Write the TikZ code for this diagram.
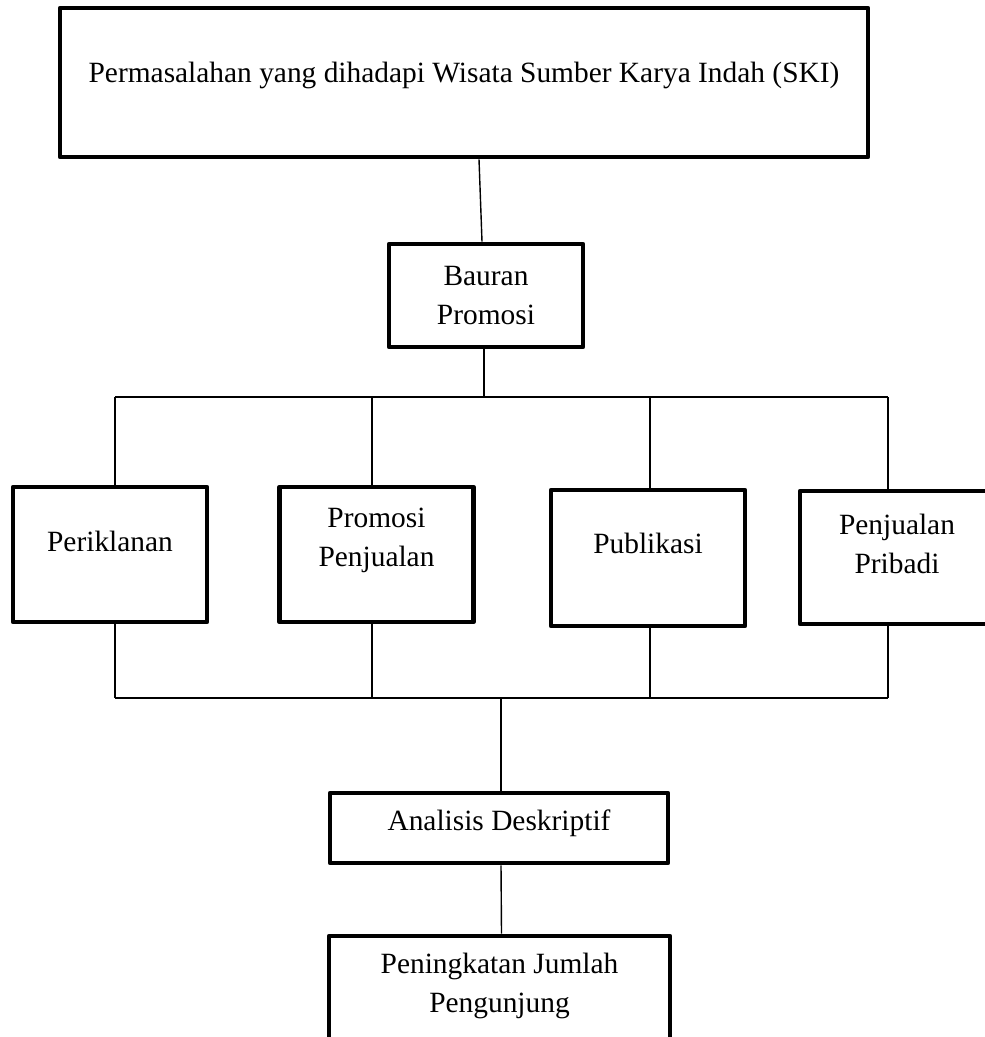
\documentclass[tikz,border=0pt]{standalone}
\usepackage{fontspec}
\setmainfont{Liberation Serif}
\begin{document}
\begin{tikzpicture}[x=0.5pt, y=-0.5pt,
  every node/.style={font=\fontsize{14.7}{19.5}\selectfont},
  box/.style={draw, line width=2.3pt, line join=round, inner sep=0pt},
  itembox/.style={box, minimum width=97pt, minimum height=67.5pt},
  link/.style={line width=0.7pt}]
\useasboundingbox (0,0) rectangle (984,1037);

% boxes
\node[box, minimum width=404pt, minimum height=74.5pt,
  label={[yshift=3.75pt]center:Permasalahan yang dihadapi Wisata Sumber Karya Indah (SKI)}] (problem) at (464,82.5) {};
\node[box, minimum width=97pt, minimum height=51.5pt, align=center] (bauran) at (486,295.5) {Bauran\\Promosi};
\node[itembox, label={[yshift=6.75pt]center:Periklanan}] (periklanan) at (110,554.5) {};
\node[itembox, label={[yshift=7.25pt, align=center]center:Promosi\\Penjualan}] (promosi) at (376.5,554.5) {};
\node[itembox, minimum height=68pt, label={[yshift=7.5pt]center:Publikasi}] (publikasi) at (648,558) {};
\node[itembox, minimum height=66.5pt, label={[yshift=7pt, align=center]center:Penjualan\\Pribadi}] (pribadi) at (897,557.5) {};
\node[box, minimum width=169pt, minimum height=35pt, label={[yshift=2.5pt]center:Analisis Deskriptif}] (analisis) at (499,828) {};
\node[box, minimum width=170.5pt, minimum height=55pt,
  label={[yshift=2.5pt, align=center]center:Peningkatan Jumlah\\Pengunjung}] (peningkatan) at (499.5,991) {};

% connectors
\coordinate (dropA) at (115,397);
\coordinate (dropB) at (372,397);
\coordinate (dropC) at (650,397);
\coordinate (dropD) at (888,397);
\coordinate (joinA) at (115,698);
\coordinate (joinB) at (372,698);
\coordinate (joinC) at (650,698);
\coordinate (joinD) at (888,698);
\draw[link] ([xshift=7.5pt]problem.south) -- ([xshift=-2pt]bauran.north);
\draw[link] ([xshift=-1pt]bauran.south) -- ([xshift=-1pt]bauran.south |- dropA);
\draw[link] (dropA) -- (dropD);
\draw[link] (joinA) -- (joinD);
\foreach \boxname/\c in {periklanan/A, promosi/B, publikasi/C, pribadi/D} {
  \draw[link] (drop\c) -- (drop\c |- \boxname.north);
  \draw[link] (join\c |- \boxname.south) -- (join\c);
}
\draw[link] ([xshift=1pt]analisis.north |- joinA) -- ([xshift=1pt]analisis.north);
\draw[link] ([xshift=1pt]analisis.south) -- ([xshift=1pt]peningkatan.north);
\end{tikzpicture}
\end{document}
